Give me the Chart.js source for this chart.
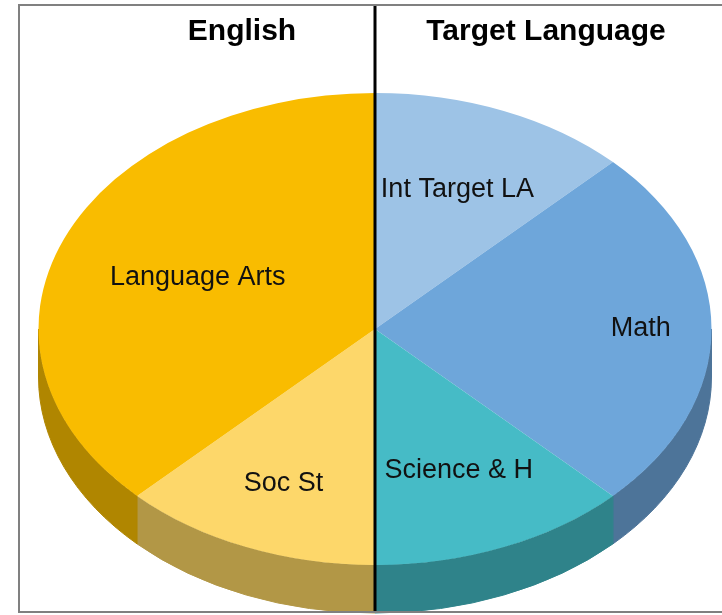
<!DOCTYPE html>
<html>
<head>
<meta charset="utf-8">
<script src="https://cdn.jsdelivr.net/npm/chart.js@4/dist/chart.umd.min.js"></script>
<style>
  html, body { margin: 0; padding: 0; background: #fff; }
  canvas { display: block; }
</style>
</head>
<body>
<canvas id="pie" width="722" height="615"></canvas>
<script>
// Data (clockwise from 12 o'clock)
const categories = ['Int Target LA', 'Math', 'Science & H', 'Soc St', 'Language Arts'];
const shares = [12.5, 25, 12.5, 12.5, 37.5];
const groupTitles = ['English', 'Target Language'];

// Styles
const topColors = ['#9DC3E6', '#6EA6DA', '#46BBC6', '#FDD76A', '#F9BC00'];
const sideColors = ['#7A9CBB', '#4D7499', '#2F838A', '#B29746', '#B08600'];
const labelRadius = [0.64, 0.79, 0.65, 0.71, 0.57];

// ellipse geometry of the tilted pie
const CX = 375, CY = 329, RX = 336.5, RY = 236, DEPTH = 48;

const pie3d = {
    id: 'pie3d',
    beforeDatasetsDraw(chart) {
        const ctx = chart.ctx;
        const arcs = chart.getDatasetMeta(0).data;
        if (!arcs.length) return;
        // front walls, only the part facing the viewer (0..PI)
        arcs.forEach((arc, i) => {
            for (let k = -1; k <= 1; k++) {
                const lo = Math.max(arc.startAngle, 2 * Math.PI * k);
                const hi = Math.min(arc.endAngle, 2 * Math.PI * k + Math.PI);
                if (hi <= lo) continue;
                ctx.beginPath();
                ctx.ellipse(CX, CY, RX, RY, 0, lo, hi);
                ctx.lineTo(CX + RX * Math.cos(hi), CY + DEPTH + RY * Math.sin(hi));
                ctx.ellipse(CX, CY + DEPTH, RX, RY, 0, hi, lo, true);
                ctx.closePath();
                ctx.fillStyle = sideColors[i];
                ctx.strokeStyle = sideColors[i];
                ctx.lineWidth = 1;
                ctx.fill();
                ctx.stroke();
            }
        });
        // squash the pie into an ellipse
        const a = arcs[0];
        ctx.save();
        ctx.translate(CX, CY);
        ctx.scale(RX / a.outerRadius, RY / a.outerRadius);
        ctx.translate(-a.x, -a.y);
    },
    afterDatasetsDraw(chart) {
        chart.ctx.restore();
    },
    afterDraw(chart) {
        const ctx = chart.ctx;
        const arcs = chart.getDatasetMeta(0).data;
        ctx.save();
        // slice labels
        ctx.font = '27px "Liberation Sans", Arial, sans-serif';
        ctx.fillStyle = '#111';
        ctx.textAlign = 'center';
        ctx.textBaseline = 'middle';
        arcs.forEach((arc, i) => {
            const mid = (arc.startAngle + arc.endAngle) / 2;
            const f = labelRadius[i];
            ctx.fillText(categories[i], CX + RX * f * Math.cos(mid), CY + RY * f * Math.sin(mid));
        });
        // divider
        ctx.strokeStyle = '#000';
        ctx.lineWidth = 3;
        ctx.beginPath();
        ctx.moveTo(CX, 6);
        ctx.lineTo(CX, 612);
        ctx.stroke();
        // group titles
        ctx.font = 'bold 30px "Liberation Sans", Arial, sans-serif';
        ctx.fillStyle = '#000';
        ctx.textBaseline = 'alphabetic';
        ctx.fillText(groupTitles[0], 242, 40);
        ctx.fillText(groupTitles[1], 546, 40);
        // frame
        ctx.strokeStyle = '#808080';
        ctx.lineWidth = 2;
        ctx.strokeRect(19, 5, 800, 607);
        ctx.restore();
    }
};

new Chart(document.getElementById('pie'), {
    type: 'pie',
    data: {
        labels: categories,
        datasets: [{
            data: shares,
            backgroundColor: topColors,
            borderWidth: 0,
            clip: false
        }]
    },
    options: {
        responsive: false,
        animation: false,
        events: [],
        layout: { padding: 0 },
        plugins: {
            legend: { display: false },
            tooltip: { enabled: false }
        }
    },
    plugins: [pie3d]
});
</script>
</body>
</html>
